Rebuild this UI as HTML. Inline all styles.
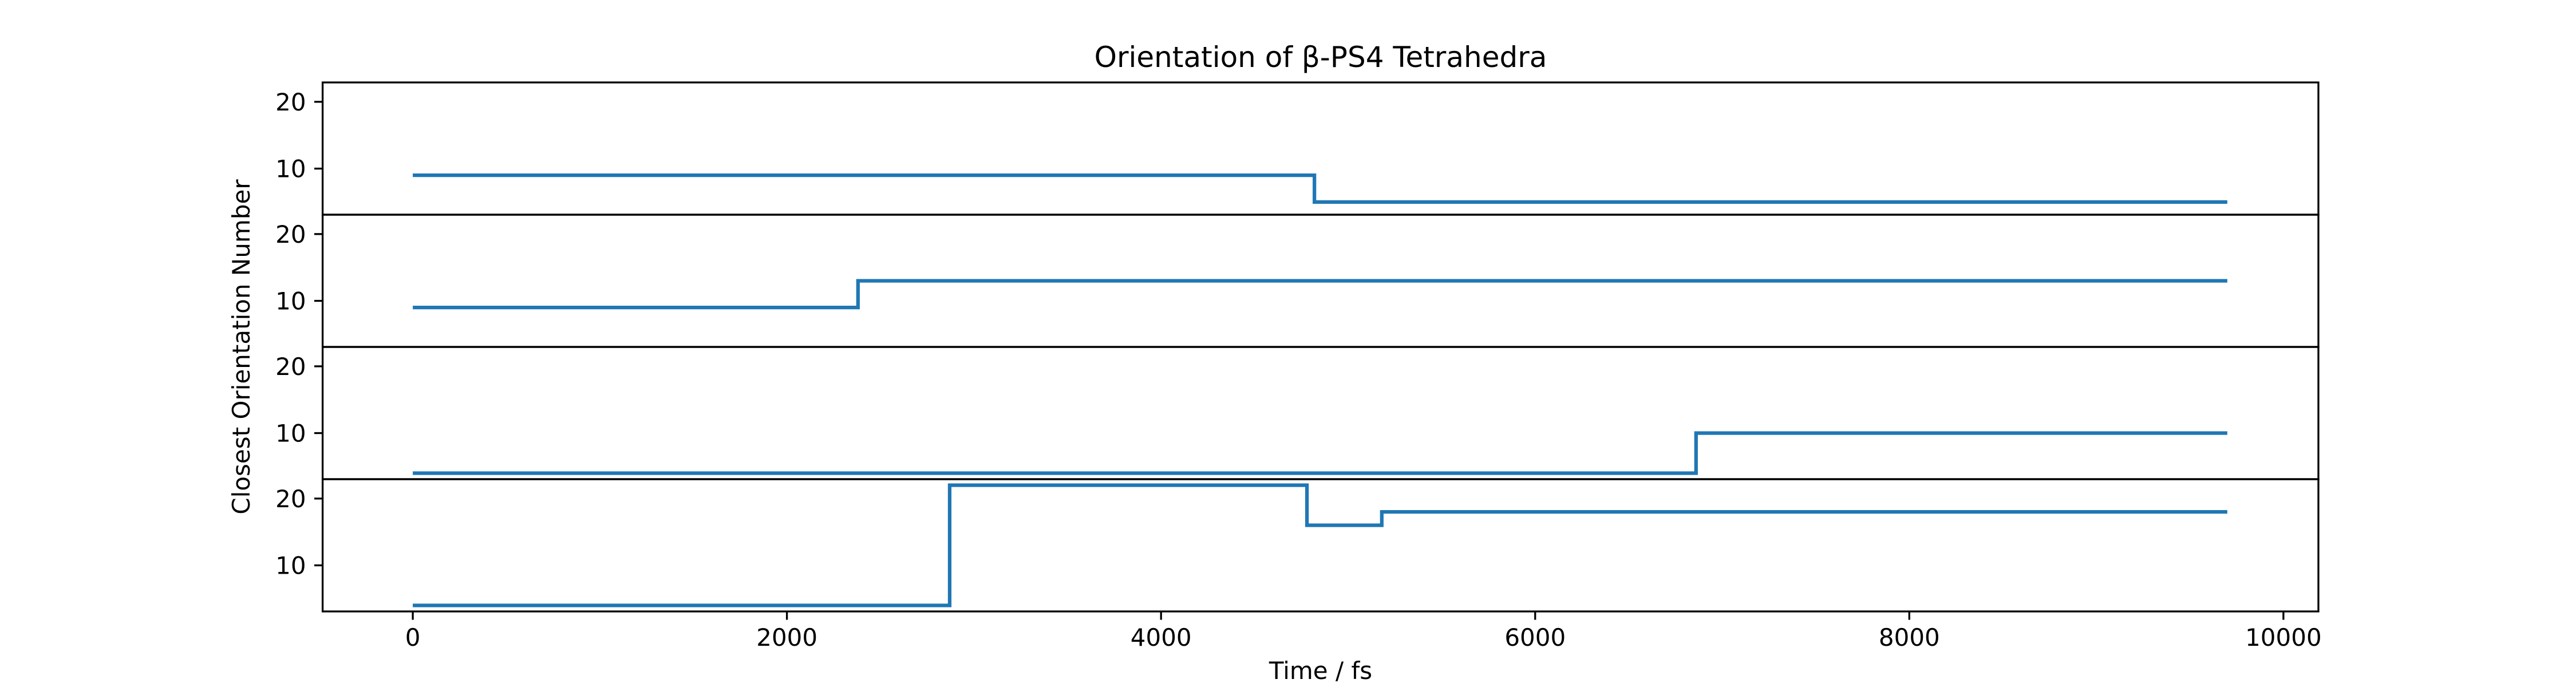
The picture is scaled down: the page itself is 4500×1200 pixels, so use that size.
<!DOCTYPE html>
<html><head><meta charset="utf-8"><style>
html,body{margin:0;padding:0;background:#fff;}
svg{display:block;font-family:"DejaVu Sans","Liberation Sans",sans-serif;}
</style></head><body>
<svg id="chart" width="4500" height="1200" viewBox="0 0 4500 1200" xmlns="http://www.w3.org/2000/svg">
<rect width="4500" height="1200" fill="#fff"/>
<text x="2307" y="117" font-size="50" text-anchor="middle">Orientation of β-PS4 Tetrahedra</text>
<text x="2307" y="1186" font-size="42" text-anchor="middle">Time / fs</text>
<text x="0" y="0" font-size="42" text-anchor="middle" transform="translate(436,606) rotate(-90)">Closest Orientation Number</text>
<g id="plots"></g>
</svg>
<script>
const panelNames = ['tetrahedron-1','tetrahedron-2','tetrahedron-3','tetrahedron-4'];
const stepTimes1 = [0, 4820, 9700];
const stepValues1 = [9, 5, 5];
const stepTimes2 = [0, 2380, 9700];
const stepValues2 = [9, 13, 13];
const stepTimes3 = [0, 6860, 9700];
const stepValues3 = [4, 10, 10];
const stepTimes4 = [0, 2870, 4780, 5180, 9700];
const stepValues4 = [4, 22, 16, 18, 18];
const xTicks = [0, 2000, 4000, 6000, 8000, 10000];
const xTickLabels = ['0','2000','4000','6000','8000','10000'];
const yTicks = [10, 20];
const yTickLabels = ['10','20'];

const L=563.6, R=4050, T=144, B=1068, PH=(B-T)/4;
const XMIN=-482, XMAX=10187, YMIN=3.1, YMAX=22.9;
const xs = v => L + (v-XMIN)/(XMAX-XMIN)*(R-L);
const ys = (p,v) => T + p*PH + PH - (v-YMIN)/(YMAX-YMIN)*PH;
const NS='http://www.w3.org/2000/svg';
const g=document.getElementById('plots');
function mk(tag, attrs){const e=document.createElementNS(NS,tag);for(const k in attrs)e.setAttribute(k,attrs[k]);g.appendChild(e);return e;}
const allT=[stepTimes1,stepTimes2,stepTimes3,stepTimes4];
const allV=[stepValues1,stepValues2,stepValues3,stepValues4];
for(let p=0;p<4;p++){
  const t=allT[p], v=allV[p];
  let pts=[];
  for(let i=0;i<t.length;i++){
    if(i>0) pts.push(xs(t[i])+','+ys(p,v[i-1]));
    pts.push(xs(t[i])+','+ys(p,v[i]));
  }
  const line=mk('polyline',{points:pts.join(' '),fill:'none',stroke:'#1f77b4','stroke-width':6.25,'stroke-linejoin':'miter'});
  
  
  for(let j=0;j<yTicks.length;j++){
    const y=ys(p,yTicks[j]);
    const tk=mk('line',{x1:L-14.6,x2:L,y1:y,y2:y,stroke:'#000','stroke-width':3.3});
    
    
    const tx=mk('text',{x:L-29,y:y+15,'font-size':42,'text-anchor':'end'});
    tx.textContent=yTickLabels[j];
    
    
  }
  const fr=mk('rect',{x:L,y:T+p*PH,width:R-L,height:PH,fill:'none',stroke:'#000','stroke-width':3.3});
  
  
}
for(let j=0;j<xTicks.length;j++){
  const x=xs(xTicks[j]);
  const tk=mk('line',{x1:x,x2:x,y1:B,y2:B+14.6,stroke:'#000','stroke-width':3.3});
  
  
  const tx=mk('text',{x:x,y:B+60,'font-size':42,'text-anchor':'middle'});
  tx.textContent=xTickLabels[j];
  
  
}
</script>
</body></html>
